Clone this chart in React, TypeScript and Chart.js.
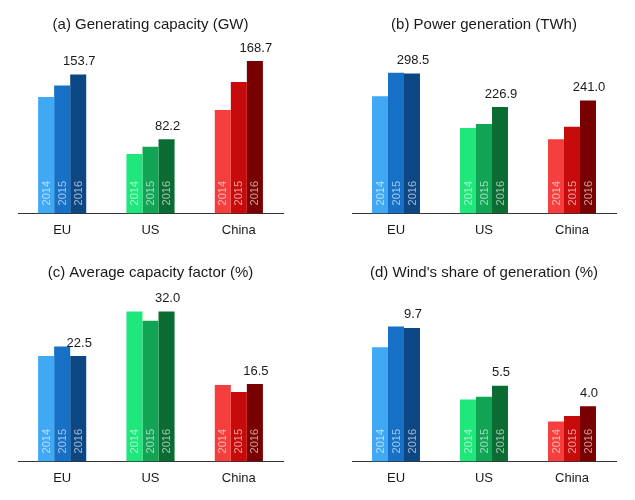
import React, { useEffect, useRef } from "react";
import { Chart, registerables } from "chart.js";

Chart.register(...registerables);

const categories = ["EU", "US", "China"];
const years = ["2014", "2015", "2016"];

const capacity2014 = [128.8, 65.9, 114.6];
const capacity2015 = [141.6, 73.9, 145.4];
const capacity2016 = [153.7, 82.2, 168.7];

const generation2014 = [250.0, 182.0, 158.0];
const generation2015 = [300.0, 191.0, 185.0];
const generation2016 = [298.5, 226.9, 241.0];

const factor2014 = [22.5, 32.0, 16.3];
const factor2015 = [24.5, 30.0, 14.8];
const factor2016 = [22.5, 32.0, 16.5];

const share2014 = [8.3, 4.5, 2.9];
const share2015 = [9.8, 4.7, 3.3];
const share2016 = [9.7, 5.5, 4.0];

const yearColors = [
  ["#41a9f4", "#1fe77c", "#f53f3f"],
  ["#1670c6", "#12a455", "#c70a0a"],
  ["#0c4784", "#0a6c32", "#780000"],
];

const FONT = '"Liberation Sans", Arial, Helvetica, sans-serif';

type PanelProps = {
  title: string;
  series: number[][];
  yMax: number;
  left: number;
  top: number;
  width: number;
  height: number;
  padLeft: number;
  padRight: number;
};

const labelPlugin = {
  id: "barLabels",
  afterDatasetsDraw(chart: any) {
    const ctx = chart.ctx;
    ctx.save();
    chart.data.datasets.forEach((ds: any, di: number) => {
      const meta = chart.getDatasetMeta(di);
      meta.data.forEach((bar: any) => {
        ctx.save();
        ctx.translate(bar.x, chart.chartArea.bottom - 8);
        ctx.rotate(-Math.PI / 2);
        ctx.font = `11px ${FONT}`;
        ctx.fillStyle = "rgba(255,255,255,0.6)";
        ctx.textAlign = "left";
        ctx.textBaseline = "middle";
        ctx.fillText(ds.label, 0, 0.5);
        ctx.restore();
      });
    });
    const last = chart.data.datasets.length - 1;
    const meta = chart.getDatasetMeta(last);
    meta.data.forEach((bar: any, i: number) => {
      const v = chart.data.datasets[last].data[i];
      ctx.font = `13px ${FONT}`;
      ctx.fillStyle = "#1a1a1a";
      ctx.textAlign = "center";
      ctx.textBaseline = "middle";
      ctx.fillText(Number(v).toFixed(1), bar.x + 1, bar.y - 13);
    });
    ctx.restore();
  },
};

function Panel(p: PanelProps) {
  const ref = useRef<HTMLCanvasElement | null>(null);
  useEffect(() => {
    if (!ref.current) return;
    const chart = new Chart(ref.current, {
      type: "bar",
      data: {
        labels: categories,
        datasets: years.map((y, yi) => ({
          label: y,
          data: p.series[yi],
          backgroundColor: yearColors[yi],
          borderWidth: 0,
          categoryPercentage: 0.545,
          barPercentage: 1.0,
        })),
      },
      options: {
        animation: false,
        responsive: false,
        devicePixelRatio: 1,
        layout: {
          padding: { left: p.padLeft, right: p.padRight, top: 0, bottom: 3 },
        },
        plugins: {
          legend: { display: false },
          tooltip: { enabled: false },
          title: {
            display: true,
            text: p.title,
            color: "#1a1a1a",
            font: { family: FONT, size: 15, weight: "normal", lineHeight: 1.2 },
            padding: { top: 16, bottom: 6 },
          },
        },
        scales: {
          x: {
            grid: { display: false, drawTicks: false },
            border: { display: true, color: "#333333", width: 1 },
            ticks: {
              color: "#1a1a1a",
              font: { family: FONT, size: 13 },
              padding: 9,
            },
          },
          y: {
            display: false,
            min: 0,
            max: p.yMax,
          },
        },
      },
      plugins: [labelPlugin],
    });
    return () => chart.destroy();
  }, []);
  return (
    <canvas
      ref={ref}
      width={p.width}
      height={p.height}
      style={{
        position: "absolute",
        left: p.left,
        top: p.top,
        width: p.width,
        height: p.height,
      }}
    />
  );
}

export default function App() {
  return (
    <div
      style={{
        position: "absolute",
        left: 0,
        top: 0,
        width: 635,
        height: 500,
        background: "#ffffff",
        overflow: "hidden",
      }}
    >
      <Panel
        title="(a) Generating capacity (GW)"
        series={[capacity2014, capacity2015, capacity2016]}
        yMax={192}
        left={0}
        top={0}
        width={317}
        height={250}
        padLeft={18}
        padRight={34}
      />
      <Panel
        title="(b) Power generation (TWh)"
        series={[generation2014, generation2015, generation2016]}
        yMax={370}
        left={317}
        top={0}
        width={318}
        height={250}
        padLeft={35}
        padRight={19}
      />
      <Panel
        title="(c) Average capacity factor (%)"
        series={[factor2014, factor2015, factor2016]}
        yMax={37}
        left={0}
        top={248}
        width={317}
        height={250}
        padLeft={18}
        padRight={34}
      />
      <Panel
        title="(d) Wind's share of generation (%)"
        series={[share2014, share2015, share2016]}
        yMax={12.6}
        left={317}
        top={248}
        width={318}
        height={250}
        padLeft={35}
        padRight={19}
      />
    </div>
  );
}
